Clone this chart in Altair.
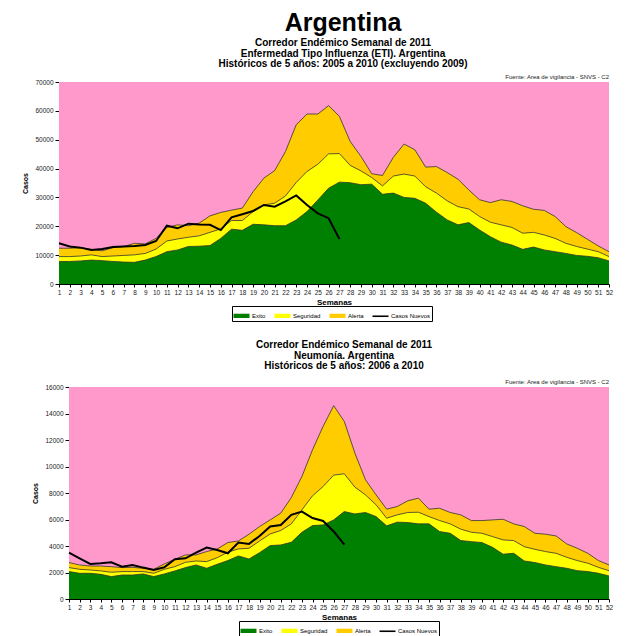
import altair as alt
import pandas as pd

FONT = "Liberation Sans"
weeks = list(range(1, 53))
series_names = ["Exito", "Seguridad", "Alerta", "Casos Nuevos"]
series_colors = ["#008000", "#FFFF00", "#FFCC00", "#000000"]
fuente = "Fuente: Area de vigilancia - SNVS - C2"
PINK = "#FF99CC"

# --- ETI (upper boundaries of each band) ---
eti_exito = [7800, 7800, 8000, 8300, 8100, 7800, 7600, 7500, 8300, 9500,
             11200, 11800, 13000, 13100, 13300, 15800, 19000, 18600, 20700, 20500,
             20200, 20200, 22200, 25100, 29100, 33200, 35300, 35100, 34400, 34600,
             31100, 31500, 30000, 29700, 28000, 24900, 22200, 20500, 21300, 18700,
             16400, 14500, 13500, 12000, 12800, 11800, 11200, 10600, 9900, 9600,
             9100, 8000]
eti_seguridad = [9500, 9500, 9700, 10100, 9500, 9700, 9900, 10100, 10600, 12100,
                 14900, 15600, 16200, 16700, 17900, 19100, 22000, 22000, 25100, 27400,
                 28000, 30500, 35200, 39000, 41500, 45100, 45200, 41100, 39200, 36900,
                 34000, 37400, 38100, 37400, 33700, 31500, 28800, 26800, 26000, 23400,
                 21400, 20500, 19600, 17600, 17900, 17000, 15800, 14100, 13000, 12100,
                 11200, 9500]
eti_alerta = [12400, 12400, 12600, 12000, 11500, 12600, 13000, 14100, 13900, 15800,
              19600, 20500, 20200, 21100, 23600, 24800, 25600, 26300, 32000, 36700,
              39300, 45900, 55200, 58900, 58900, 61800, 58100, 49400, 44200, 38200,
              37600, 43900, 48500, 46500, 40500, 40700, 38600, 36300, 32600, 29200,
              28200, 29200, 28600, 27100, 25900, 25500, 23400, 19900, 17800, 15500,
              13200, 11200]
eti_casos = [14100, 13000, 12600, 11800, 12100, 12800, 13000, 13200, 13500, 14900,
             20200, 19300, 20900, 20600, 20500, 18700, 23100, 24200, 25300, 27400,
             26800, 28600, 30700, 27400, 24500, 22800, 15600]

# --- Neumonia ---
neu_exito = [2070, 1940, 1940, 1860, 1690, 1810, 1810, 1890, 1690, 1890,
             2120, 2370, 2570, 2320, 2620, 2900, 3250, 3020, 3500, 4030,
             4080, 4280, 5040, 5540, 5590, 5970, 6600, 6420, 6530, 6220,
             5520, 5800, 5770, 5670, 5670, 5090, 4960, 4410, 4330, 4260,
             3900, 3380, 3450, 2870, 2750, 2570, 2440, 2320, 2140, 2070,
             1940, 1740]
neu_seguridad = [2370, 2240, 2190, 2120, 2020, 2070, 2070, 2070, 1940, 2240,
                 2440, 2770, 2870, 2820, 3120, 3530, 3780, 3830, 4380, 4910,
                 5170, 5670, 6730, 7790, 8490, 9350, 9450, 8440, 7860, 7110,
                 6100, 6350, 6530, 6550, 6220, 5920, 5670, 5270, 5040, 4960,
                 4710, 4460, 4410, 3950, 3750, 3580, 3450, 3150, 2900, 2700,
                 2390, 2140]
neu_alerta = [2750, 2570, 2490, 2490, 2440, 2370, 2390, 2320, 2240, 2650,
              3000, 3330, 3330, 3580, 3780, 4260, 4380, 4890, 5470, 5970,
              6480, 7660, 9250, 11260, 13030, 14590, 13400, 11010, 9000, 7860,
              6780, 6980, 7410, 7610, 6780, 6850, 6530, 6350, 5920, 5920,
              5970, 6020, 5670, 5470, 4960, 4890, 4760, 4160, 3830, 3450,
              2900, 2570]
neu_casos = [3500, 3070, 2650, 2700, 2770, 2440, 2570, 2370, 2190, 2390,
             3000, 3070, 3500, 3880, 3700, 3450, 4260, 4160, 4760, 5470,
             5590, 6350, 6600, 6110, 5890, 5100, 4100]

RECT = "M-1,-0.27H1V0.27H-1Z"
LINE = "M-1,-0.1H1V0.1H-1Z"


def panel(exito, seg, alerta, casos, ymax, ystep, width, height, title,
          legend_x, legend_y, x_start, axis_offset, rule_x):
    df = pd.DataFrame({"semana": weeks, "exito": exito, "seguridad": seg, "alerta": alerta})
    dc = pd.DataFrame({"semana": weeks[:len(casos)], "casos": casos})
    dl = pd.DataFrame({"serie": series_names})

    xaxis = alt.Axis(values=weeks, title="Semanas", labelFontSize=6.5, labelColor="#222",
                     labelOverlap=False, labelFlush=False, labelPadding=2, tickSize=3,
                     tickColor="black", domainColor="black", grid=False,
                     titleFontSize=8, titleFontWeight="bold", titlePadding=3,
                     titleFont=FONT, labelFont=FONT)
    xscale = alt.Scale(domain=[1, 52], nice=False, zero=False, range=[x_start, width])
    yscale = alt.Scale(domain=[0, ymax], nice=False)
    yaxis = alt.Axis(title="Casos", values=list(range(0, ymax + 1, ystep)), format="d",
                     offset=axis_offset,
                     labelOverlap=False, labelFontSize=6.5, labelColor="#222", labelPadding=2,
                     tickSize=4, tickColor="black", domainColor="black", grid=True,
                     gridDash=[3, 2], gridColor="#222", gridWidth=0.8, titleFontSize=7,
                     titleFontWeight="bold", titlePadding=6, titleFont=FONT, labelFont=FONT)

    def X():
        return alt.X("semana:Q", scale=xscale, axis=xaxis)

    def Y(f):
        return alt.Y(f + ":Q", scale=yscale, axis=yaxis)

    bg = alt.Chart(pd.DataFrame({"a": [0]})).mark_rect(color=PINK).encode(
        x=alt.X(datum=1, type="quantitative", scale=xscale, axis=xaxis),
        x2=alt.X2(datum=52),
        y=alt.Y(datum=0, type="quantitative", scale=yscale, axis=yaxis),
        y2=alt.Y2(datum=ymax))

    base = alt.Chart(df)
    line_cfg = {"color": "#333", "strokeWidth": 0.8}
    a_al = base.mark_area(color="#FFCC00", opacity=1, line=line_cfg).encode(x=X(), y=Y("alerta"))
    a_se = base.mark_area(color="#FFFF00", opacity=1, line=line_cfg).encode(x=X(), y=Y("seguridad"))
    a_ex = base.mark_area(color="#008000", opacity=1, line=line_cfg).encode(x=X(), y=Y("exito"))
    ln = alt.Chart(dc).mark_line(color="black", strokeWidth=2).encode(x=X(), y=Y("casos"))

    leg = alt.Legend(title=None, orient="none", legendX=legend_x, legendY=legend_y,
                     direction="horizontal", strokeColor="black", fillColor="white",
                     padding=1, labelFontSize=6, labelFont=FONT, labelOffset=2,
                     columnPadding=6, symbolSize=256, symbolStrokeColor="black",
                     symbolStrokeWidth=0.8, symbolOpacity=1)
    pts = alt.Chart(dl).mark_point(filled=True, opacity=1, clip=True).encode(
        x=alt.value(-40), y=alt.value(-40),
        color=alt.Color("serie:N", scale=alt.Scale(domain=series_names, range=series_colors),
                        sort=series_names, legend=leg),
        shape=alt.Shape("serie:N", scale=alt.Scale(domain=series_names,
                                                    range=[RECT, RECT, RECT, LINE]),
                        sort=series_names, legend=leg))

    src = alt.Chart(pd.DataFrame({"t": [fuente]})).mark_text(
        align="right", baseline="bottom", fontSize=6, font=FONT, color="#222").encode(
        text="t:N", x=alt.value(width), y=alt.value(-2))

    spacer = alt.Chart(pd.DataFrame({"a": [0]})).mark_rule(opacity=0, stroke="white").encode(
        x=alt.value(rule_x), y=alt.value(0), y2=alt.value(10))

    return alt.layer(bg, a_al, a_se, a_ex, ln, pts, src, spacer).properties(
        width=width, height=height, title=title)


title_top = alt.TitleParams(
    text="Argentina",
    subtitle=["Corredor Endémico Semanal de 2011",
              "Enfermedad Tipo Influenza (ETI).  Argentina",
              "Históricos de 5 años: 2005 a 2010 (excluyendo 2009)"],
    font=FONT, fontSize=25, fontWeight="bold", color="black",
    subtitleFont=FONT, subtitleFontSize=10, subtitleFontWeight="bold", subtitleColor="black",
    subtitlePadding=2, subtitleLineHeight=10.5, offset=5, anchor="middle", dx=4)

title_bot = alt.TitleParams(
    text=["Corredor Endémico Semanal de 2011",
          "Neumonía.  Argentina",
          "Históricos de 5 años: 2006 a 2010"],
    font=FONT, fontSize=10, fontWeight="bold", color="black", lineHeight=10.5,
    offset=8, anchor="middle", dx=5)

top = panel(eti_exito, eti_seguridad, eti_alerta, eti_casos, 70000, 10000, 540, 202,
            title_top, 163, 224, -10, 10, -61)
bot = panel(neu_exito, neu_seguridad, neu_alerta, neu_casos, 16000, 2000, 540, 212,
            title_bot, 170, 234, 0, 0, -61)

chart = alt.vconcat(top, bot, spacing=18).resolve_scale(
    color="independent", shape="independent"
).resolve_legend(color="independent", shape="independent").properties(
    padding={"left": 0, "top": 3, "right": 0, "bottom": 0}
).configure(font=FONT).configure_view(fill="transparent", stroke="transparent", strokeWidth=0)

chart.save("out.html", embed_options={"renderer": "svg", "actions": False})
